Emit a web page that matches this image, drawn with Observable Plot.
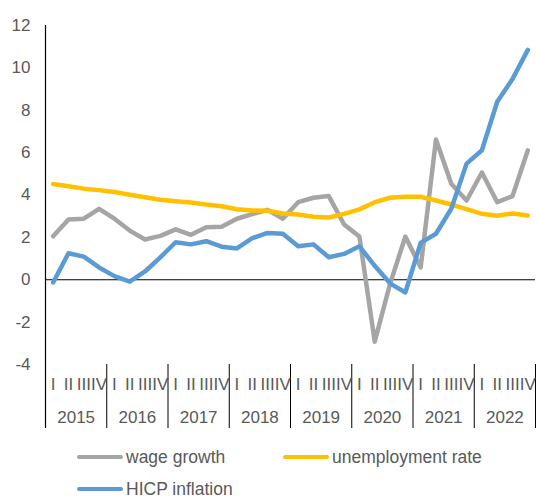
<!DOCTYPE html>
<html>
<head>
<meta charset="utf-8">
<script src="https://cdn.jsdelivr.net/npm/d3@7"></script>
<script src="https://cdn.jsdelivr.net/npm/@observablehq/plot@0.6"></script>
<style>
  html, body { margin: 0; padding: 0; background: #fff; }
  body { width: 537px; height: 497px; position: relative; overflow: hidden; font-family: "Liberation Sans", Arial, sans-serif; }
  #legend { position: absolute; left: 0; top: 440px; width: 537px; height: 57px; color: #595959; font-size: 17.5px; }
  .item { position: absolute; display: flex; align-items: center; white-space: nowrap; }
  .sw { width: 46px; height: 4.5px; border-radius: 2.5px; margin-right: 3px; }
</style>
</head>
<body>
<div id="chart"></div>
<div id="legend"></div>
<script>
const years = [2015, 2016, 2017, 2018, 2019, 2020, 2021, 2022];
const quarterLabels = ["I", "II", "III", "IV"];
const seriesNames = ["wage growth", "unemployment rate", "HICP inflation"];
const seriesColors = ["#A5A5A5", "#FFC000", "#5B9BD5"];

const wageGrowth = [2.05, 2.84, 2.88, 3.35, 2.88, 2.32, 1.90, 2.07, 2.38, 2.12, 2.48, 2.50, 2.88, 3.10, 3.30, 2.88,
  3.66, 3.87, 3.95, 2.61, 2.04, -2.92, -0.2, 2.04, 0.58, 6.62, 4.53, 3.74, 5.06, 3.66, 3.95, 6.11];
const unemploymentRate = [4.52, 4.41, 4.30, 4.23, 4.14, 4.01, 3.89, 3.78, 3.71, 3.65, 3.55, 3.47, 3.33, 3.27, 3.26, 3.13,
  3.08, 2.97, 2.94, 3.11, 3.32, 3.66, 3.87, 3.92, 3.92, 3.74, 3.55, 3.33, 3.11, 3.02, 3.13, 3.03];
const hicpInflation = [-0.13, 1.25, 1.09, 0.58, 0.17, -0.09, 0.39, 1.06, 1.77, 1.67, 1.82, 1.56, 1.48, 1.96, 2.21, 2.17,
  1.58, 1.67, 1.06, 1.22, 1.58, 0.66, -0.17, -0.60, 1.74, 2.17, 3.35, 5.48, 6.11, 8.40, 9.48, 10.85];
const yTicks = [-4, -2, 0, 2, 4, 6, 8, 10, 12];

const seriesValues = [wageGrowth, unemploymentRate, hicpInflation];
const rows = [];
seriesValues.forEach((vals, s) => vals.forEach((v, i) => rows.push({series: seriesNames[s], q: i + 0.5, value: v})));

const quarterRows = [];
years.forEach((y, yi) => quarterLabels.forEach((ql, qi) => quarterRows.push({q: yi * 4 + qi + 0.5, label: ql})));
const yearRows = years.map((y, yi) => ({q: yi * 4 + 2, label: String(y)}));
const boundaries = d3.range(1, years.length + 1).map(k => k * 4);

const textColor = "#595959";

const chart = Plot.plot({
  width: 537,
  height: 440,
  marginTop: 25,
  marginBottom: 76,
  marginLeft: 45,
  marginRight: 2,
  style: {fontFamily: "'Liberation Sans', Arial, sans-serif", fontSize: "17px", color: textColor, background: "#fff", overflow: "visible"},
  x: {type: "linear", domain: [0, 32], axis: null},
  y: {domain: [-4, 12], ticks: yTicks, tickSize: 0, tickPadding: 15, tickFormat: d => String(d), label: null},
  color: {domain: seriesNames, range: seriesColors},
  marks: [
    Plot.ruleY([0], {stroke: "#000", strokeWidth: 1.2}),
    Plot.ruleX([0], {y1: -7.02, y2: 12, stroke: "#000", strokeWidth: 1.2}),
    Plot.ruleX(boundaries, {y1: -4, y2: -7.02, stroke: "#000", strokeWidth: 1, clip: false}),
    Plot.line(rows, {x: "q", y: "value", z: "series", stroke: "series", strokeWidth: 4.5, strokeLinejoin: "round", strokeLinecap: "round"}),
    Plot.text(quarterRows, {x: "q", y: -4.95, text: "label", fill: textColor, fontSize: 17, clip: false}),
    Plot.text(yearRows, {x: "q", y: -6.5, text: "label", fill: textColor, fontSize: 17, clip: false})
  ]
});
document.getElementById("chart").appendChild(chart);

const legend = document.getElementById("legend");
const legendPos = [[77, 17], [283, 17], [77, 49]];
seriesNames.forEach((name, i) => {
  const item = document.createElement("div");
  item.className = "item";
  item.style.left = legendPos[i][0] + "px";
  item.style.top = (legendPos[i][1] - 11) + "px";
  item.style.height = "22px";
  const sw = document.createElement("div");
  sw.className = "sw";
  sw.style.background = seriesColors[i];
  const lab = document.createElement("span");
  lab.textContent = name;
  item.appendChild(sw);
  item.appendChild(lab);
  legend.appendChild(item);
});
</script>
</body>
</html>
